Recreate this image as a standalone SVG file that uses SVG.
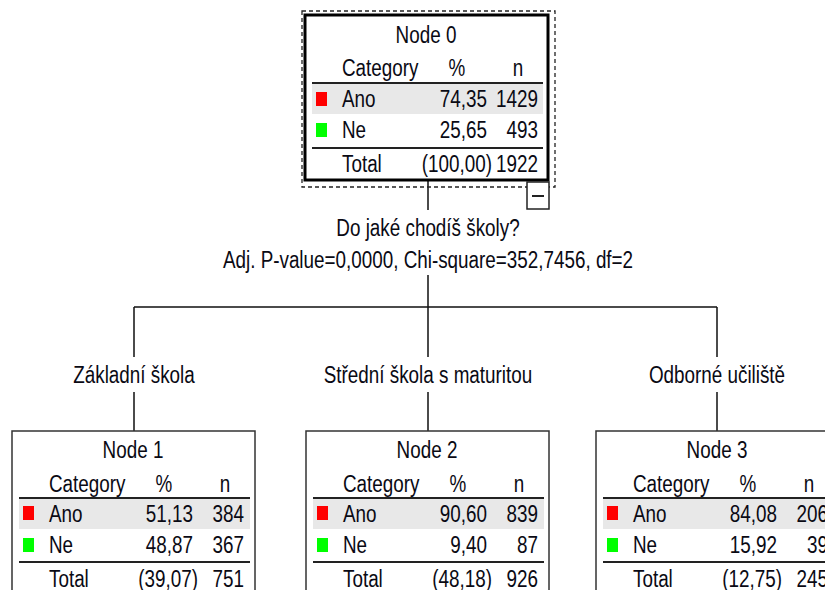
<svg xmlns="http://www.w3.org/2000/svg" width="825" height="590" viewBox="0 0 825 590">
<style>
text{font-family:"Liberation Sans",Arial,sans-serif;font-size:23px;fill:#0a0a14}
.m{text-anchor:middle}.e{text-anchor:end}
.box{fill:#fff;stroke:#333;stroke-width:1.5}
.rule{stroke:#222;stroke-width:2}
.band{fill:#e8e8e8}
.red{fill:#f00}.grn{fill:#0f0}
.con{stroke:#111;stroke-width:1.5;fill:none}
</style>
<rect width="825" height="590" fill="#fff"/>
<g id="connectors">
<path class="con" d="M428,180V210M428,275V307M134,307H717M134,307V357M428,307V357M717,307V357M134,392V431M428,392V431M717,392V431"/>
<text class="m" transform="translate(428,236) scale(0.82,1)">Do jaké chodíš školy?</text>
<text class="m" transform="translate(428,268) scale(0.82,1)">Adj. P-value=0,0000, Chi-square=352,7456, df=2</text>
<text class="m" transform="translate(134,383) scale(0.82,1)">Základní škola</text>
<text class="m" transform="translate(428,383) scale(0.82,1)">Střední škola s maturitou</text>
<text class="m" transform="translate(717,383) scale(0.82,1)">Odborné učiliště</text>
</g>
<g id="node0">
<rect x="302" y="11" width="253" height="176" fill="none" stroke="#222" stroke-width="1.3" stroke-dasharray="4,3"/>
<g transform="translate(305,15)">
<rect x="0" y="0" width="243" height="165" fill="#fff" stroke="#000" stroke-width="3"/>
<text class="m" transform="translate(121,28) scale(0.82,1)">Node 0</text>
<text transform="translate(37,61) scale(0.82,1)">Category</text>
<text class="m" transform="translate(152,61) scale(0.82,1)">%</text>
<text class="m" transform="translate(213,61) scale(0.82,1)">n</text>
<rect class="band" x="7" y="69" width="231" height="30"/>
<line class="rule" x1="7" y1="68" x2="238" y2="68"/>
<rect class="red" x="11" y="77" width="11" height="14"/>
<text transform="translate(37,92) scale(0.82,1)">Ano</text>
<text class="e" transform="translate(182,92) scale(0.82,1)">74,35</text>
<text class="e" transform="translate(233,92) scale(0.82,1)">1429</text>
<rect class="grn" x="11" y="108" width="11" height="14"/>
<text transform="translate(37,123) scale(0.82,1)">Ne</text>
<text class="e" transform="translate(182,123) scale(0.82,1)">25,65</text>
<text class="e" transform="translate(233,123) scale(0.82,1)">493</text>
<line class="rule" x1="7" y1="133" x2="238" y2="133"/>
<text transform="translate(37,157) scale(0.82,1)">Total</text>
<text class="e" transform="translate(187,157) scale(0.82,1)">(100,00)</text>
<text class="e" transform="translate(233,157) scale(0.82,1)">1922</text>
</g>
<rect x="527" y="182" width="22" height="27" fill="#fff" stroke="#222" stroke-width="1.5"/>
<line x1="532" y1="196" x2="544" y2="196" stroke="#222" stroke-width="2"/>
</g>
<g id="node1" transform="translate(12,431)">
<rect class="box" x="0" y="0" width="243" height="200"/>
<text class="m" transform="translate(121,27) scale(0.82,1)">Node 1</text>
<text transform="translate(37,61) scale(0.82,1)">Category</text>
<text class="m" transform="translate(152,61) scale(0.82,1)">%</text>
<text class="m" transform="translate(213,61) scale(0.82,1)">n</text>
<rect class="band" x="7" y="68" width="231" height="30"/>
<line class="rule" x1="7" y1="67" x2="238" y2="67"/>
<rect class="red" x="11" y="75" width="11" height="14"/>
<text transform="translate(37,91) scale(0.82,1)">Ano</text>
<text class="e" transform="translate(181,91) scale(0.82,1)">51,13</text>
<text class="e" transform="translate(232,91) scale(0.82,1)">384</text>
<rect class="grn" x="11" y="107" width="11" height="14"/>
<text transform="translate(37,122) scale(0.82,1)">Ne</text>
<text class="e" transform="translate(181,122) scale(0.82,1)">48,87</text>
<text class="e" transform="translate(232,122) scale(0.82,1)">367</text>
<line class="rule" x1="7" y1="131" x2="238" y2="131"/>
<text transform="translate(37,156) scale(0.82,1)">Total</text>
<text class="e" transform="translate(186,156) scale(0.82,1)">(39,07)</text>
<text class="e" transform="translate(232,156) scale(0.82,1)">751</text>
</g>
<g id="node2" transform="translate(306,431)">
<rect class="box" x="0" y="0" width="243" height="200"/>
<text class="m" transform="translate(121,27) scale(0.82,1)">Node 2</text>
<text transform="translate(37,61) scale(0.82,1)">Category</text>
<text class="m" transform="translate(152,61) scale(0.82,1)">%</text>
<text class="m" transform="translate(213,61) scale(0.82,1)">n</text>
<rect class="band" x="7" y="68" width="231" height="30"/>
<line class="rule" x1="7" y1="67" x2="238" y2="67"/>
<rect class="red" x="11" y="75" width="11" height="14"/>
<text transform="translate(37,91) scale(0.82,1)">Ano</text>
<text class="e" transform="translate(181,91) scale(0.82,1)">90,60</text>
<text class="e" transform="translate(232,91) scale(0.82,1)">839</text>
<rect class="grn" x="11" y="107" width="11" height="14"/>
<text transform="translate(37,122) scale(0.82,1)">Ne</text>
<text class="e" transform="translate(181,122) scale(0.82,1)">9,40</text>
<text class="e" transform="translate(232,122) scale(0.82,1)">87</text>
<line class="rule" x1="7" y1="131" x2="238" y2="131"/>
<text transform="translate(37,156) scale(0.82,1)">Total</text>
<text class="e" transform="translate(186,156) scale(0.82,1)">(48,18)</text>
<text class="e" transform="translate(232,156) scale(0.82,1)">926</text>
</g>
<g id="node3" transform="translate(596,431)">
<rect class="box" x="0" y="0" width="243" height="200"/>
<text class="m" transform="translate(121,27) scale(0.82,1)">Node 3</text>
<text transform="translate(37,61) scale(0.82,1)">Category</text>
<text class="m" transform="translate(152,61) scale(0.82,1)">%</text>
<text class="m" transform="translate(213,61) scale(0.82,1)">n</text>
<rect class="band" x="7" y="68" width="231" height="30"/>
<line class="rule" x1="7" y1="67" x2="238" y2="67"/>
<rect class="red" x="11" y="75" width="11" height="14"/>
<text transform="translate(37,91) scale(0.82,1)">Ano</text>
<text class="e" transform="translate(181,91) scale(0.82,1)">84,08</text>
<text class="e" transform="translate(232,91) scale(0.82,1)">206</text>
<rect class="grn" x="11" y="107" width="11" height="14"/>
<text transform="translate(37,122) scale(0.82,1)">Ne</text>
<text class="e" transform="translate(181,122) scale(0.82,1)">15,92</text>
<text class="e" transform="translate(232,122) scale(0.82,1)">39</text>
<line class="rule" x1="7" y1="131" x2="238" y2="131"/>
<text transform="translate(37,156) scale(0.82,1)">Total</text>
<text class="e" transform="translate(186,156) scale(0.82,1)">(12,75)</text>
<text class="e" transform="translate(232,156) scale(0.82,1)">245</text>
</g>
</svg>
